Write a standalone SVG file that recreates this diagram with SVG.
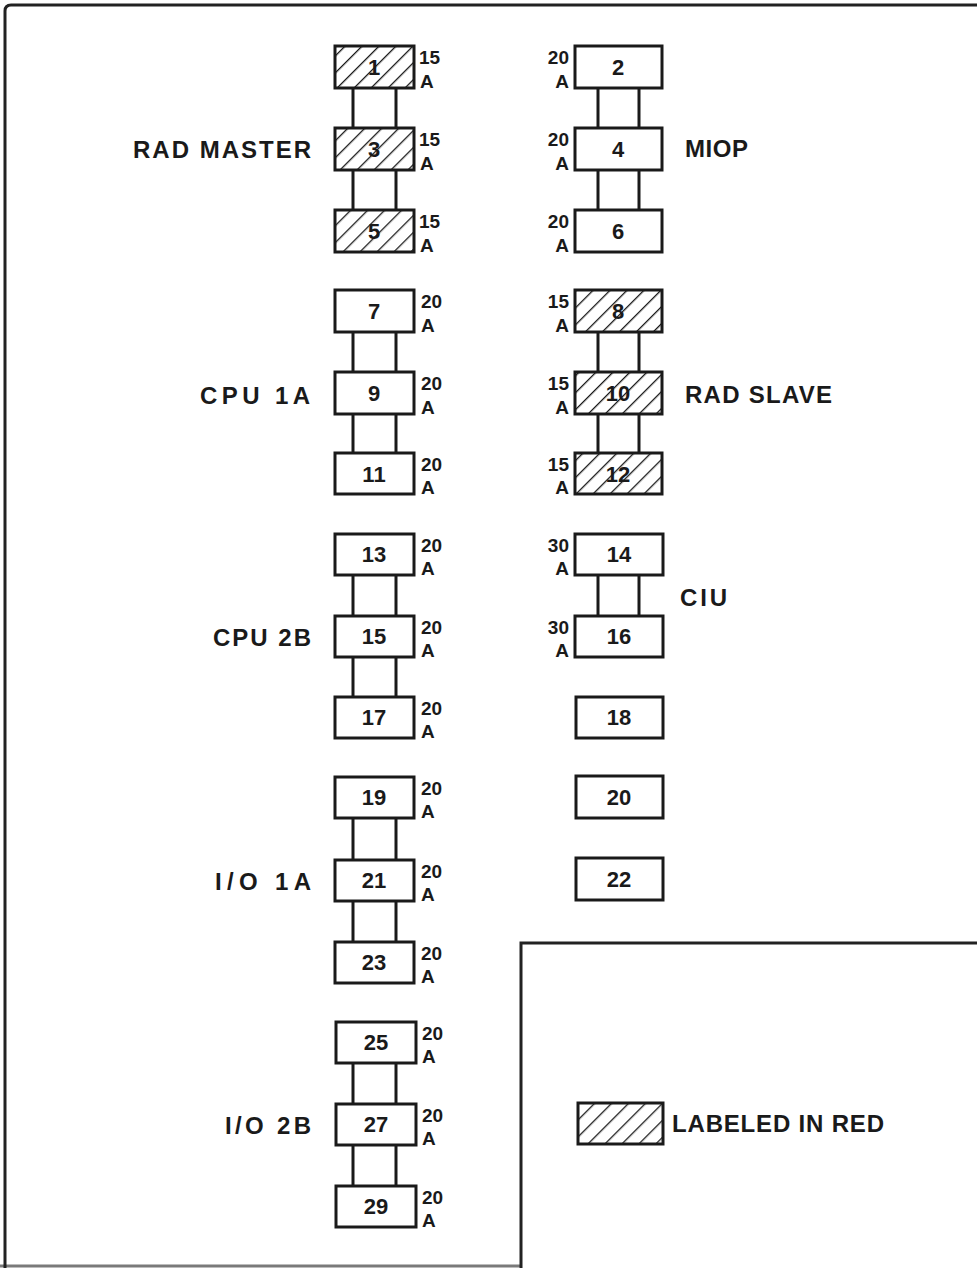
<svg xmlns="http://www.w3.org/2000/svg" width="977" height="1268" viewBox="0 0 977 1268">
<style>
.frame{fill:none;stroke:#222;stroke-width:3}
.box{fill:#fff;stroke:#1a1a1a;stroke-width:3}
.hbox{fill:url(#hatch);stroke:#1a1a1a;stroke-width:3}
.con{stroke:#1a1a1a;stroke-width:3;fill:none}
.num{font-family:"Liberation Sans",Arial,sans-serif;font-weight:bold;font-size:22px;fill:#1a1a1a;text-anchor:middle}
.rt{font-family:"Liberation Sans",Arial,sans-serif;font-weight:bold;font-size:19px;fill:#1a1a1a}
.rr{text-anchor:end}
.lbl{font-family:"Liberation Sans",Arial,sans-serif;font-weight:bold;font-size:24px;fill:#1a1a1a}
</style>
<defs>
<pattern id="hatch" patternUnits="userSpaceOnUse" width="12" height="12" patternTransform="rotate(45)">
<rect width="12" height="12" fill="#fff"/>
<line x1="0" y1="0" x2="0" y2="12" stroke="#1a1a1a" stroke-width="2.6"/>
</pattern>
</defs>
<g id="frame">
<path class="frame" d="M977,5 H11 Q5,5 5,11 V1268"/>
<path class="frame" d="M0,1266 H521" stroke-opacity="0.6"/>
<path class="frame" d="M977,943 H521 V1268"/>
</g>
<g id="connectors">
<path class="con" d="M353,88 V128 M396,88 V128 M353,170 V210 M396,170 V210"/>
<path class="con" d="M353,332 V372 M396,332 V372 M353,414 V453 M396,414 V453"/>
<path class="con" d="M353,575 V616 M396,575 V616 M353,657 V697 M396,657 V697"/>
<path class="con" d="M353,818 V860 M396,818 V860 M353,901 V942 M396,901 V942"/>
<path class="con" d="M353,1063 V1104 M396,1063 V1104 M353,1145 V1186 M396,1145 V1186"/>
<path class="con" d="M598,88 V128 M639,88 V128 M598,170 V210 M639,170 V210"/>
<path class="con" d="M598,332 V372 M639,332 V372 M598,414 V453 M639,414 V453"/>
<path class="con" d="M598,575 V616 M639,575 V616"/>
</g>
<g id="n1"><rect class="hbox" x="335" y="46" width="79" height="42"/><text class="num" x="374" y="75">1</text><text class="rt" x="419" y="64">15</text><text class="rt" x="420" y="88">A</text></g>
<g id="n3"><rect class="hbox" x="335" y="128" width="79" height="42"/><text class="num" x="374" y="157">3</text><text class="rt" x="419" y="146">15</text><text class="rt" x="420" y="170">A</text></g>
<g id="n5"><rect class="hbox" x="335" y="210" width="79" height="42"/><text class="num" x="374" y="239">5</text><text class="rt" x="419" y="228">15</text><text class="rt" x="420" y="252">A</text></g>
<g id="n7"><rect class="box" x="335" y="290" width="79" height="42"/><text class="num" x="374" y="319">7</text><text class="rt" x="421" y="308">20</text><text class="rt" x="421" y="332">A</text></g>
<g id="n9"><rect class="box" x="335" y="372" width="79" height="42"/><text class="num" x="374" y="401">9</text><text class="rt" x="421" y="390">20</text><text class="rt" x="421" y="414">A</text></g>
<g id="n11"><rect class="box" x="335" y="453" width="79" height="41"/><text class="num" x="374" y="482">11</text><text class="rt" x="421" y="471">20</text><text class="rt" x="421" y="494">A</text></g>
<g id="n13"><rect class="box" x="335" y="534" width="79" height="41"/><text class="num" x="374" y="562">13</text><text class="rt" x="421" y="552">20</text><text class="rt" x="421" y="575">A</text></g>
<g id="n15"><rect class="box" x="335" y="616" width="79" height="41"/><text class="num" x="374" y="644">15</text><text class="rt" x="421" y="634">20</text><text class="rt" x="421" y="657">A</text></g>
<g id="n17"><rect class="box" x="335" y="697" width="79" height="41"/><text class="num" x="374" y="725">17</text><text class="rt" x="421" y="715">20</text><text class="rt" x="421" y="738">A</text></g>
<g id="n19"><rect class="box" x="335" y="777" width="79" height="41"/><text class="num" x="374" y="805">19</text><text class="rt" x="421" y="795">20</text><text class="rt" x="421" y="818">A</text></g>
<g id="n21"><rect class="box" x="335" y="860" width="79" height="41"/><text class="num" x="374" y="888">21</text><text class="rt" x="421" y="878">20</text><text class="rt" x="421" y="901">A</text></g>
<g id="n23"><rect class="box" x="335" y="942" width="79" height="41"/><text class="num" x="374" y="970">23</text><text class="rt" x="421" y="960">20</text><text class="rt" x="421" y="983">A</text></g>
<g id="n25"><rect class="box" x="336" y="1022" width="80" height="41"/><text class="num" x="376" y="1050">25</text><text class="rt" x="422" y="1040">20</text><text class="rt" x="422" y="1063">A</text></g>
<g id="n27"><rect class="box" x="336" y="1104" width="80" height="41"/><text class="num" x="376" y="1132">27</text><text class="rt" x="422" y="1122">20</text><text class="rt" x="422" y="1145">A</text></g>
<g id="n29"><rect class="box" x="336" y="1186" width="80" height="41"/><text class="num" x="376" y="1214">29</text><text class="rt" x="422" y="1204">20</text><text class="rt" x="422" y="1227">A</text></g>
<g id="n2"><rect class="box" x="575" y="46" width="87" height="42"/><text class="num" x="618" y="75">2</text><text class="rt rr" x="569" y="64">20</text><text class="rt rr" x="569" y="88">A</text></g>
<g id="n4"><rect class="box" x="575" y="128" width="87" height="42"/><text class="num" x="618" y="157">4</text><text class="rt rr" x="569" y="146">20</text><text class="rt rr" x="569" y="170">A</text></g>
<g id="n6"><rect class="box" x="575" y="210" width="87" height="42"/><text class="num" x="618" y="239">6</text><text class="rt rr" x="569" y="228">20</text><text class="rt rr" x="569" y="252">A</text></g>
<g id="n8"><rect class="hbox" x="575" y="290" width="87" height="42"/><text class="num" x="618" y="319">8</text><text class="rt rr" x="569" y="308">15</text><text class="rt rr" x="569" y="332">A</text></g>
<g id="n10"><rect class="hbox" x="575" y="372" width="87" height="42"/><text class="num" x="618" y="401">10</text><text class="rt rr" x="569" y="390">15</text><text class="rt rr" x="569" y="414">A</text></g>
<g id="n12"><rect class="hbox" x="575" y="453" width="87" height="41"/><text class="num" x="618" y="482">12</text><text class="rt rr" x="569" y="471">15</text><text class="rt rr" x="569" y="494">A</text></g>
<g id="n14"><rect class="box" x="575" y="534" width="88" height="41"/><text class="num" x="619" y="562">14</text><text class="rt rr" x="569" y="552">30</text><text class="rt rr" x="569" y="575">A</text></g>
<g id="n16"><rect class="box" x="575" y="616" width="88" height="41"/><text class="num" x="619" y="644">16</text><text class="rt rr" x="569" y="634">30</text><text class="rt rr" x="569" y="657">A</text></g>
<g id="n18"><rect class="box" x="576" y="697" width="87" height="41"/><text class="num" x="619" y="725">18</text></g>
<g id="n20"><rect class="box" x="576" y="776" width="87" height="42"/><text class="num" x="619" y="805">20</text></g>
<g id="n22"><rect class="box" x="576" y="858" width="87" height="42"/><text class="num" x="619" y="887">22</text></g>
<g id="labels">
<text class="lbl" x="133" y="158" textLength="178" lengthAdjust="spacing">RAD MASTER</text>
<text class="lbl" x="685" y="157" textLength="63" lengthAdjust="spacing">MIOP</text>
<text class="lbl" x="200" y="404" textLength="110" lengthAdjust="spacing">CPU 1A</text>
<text class="lbl" x="685" y="403" textLength="147" lengthAdjust="spacing">RAD SLAVE</text>
<text class="lbl" x="680" y="606" textLength="47" lengthAdjust="spacing">CIU</text>
<text class="lbl" x="213" y="646" textLength="98" lengthAdjust="spacing">CPU 2B</text>
<text class="lbl" x="215" y="890" textLength="96" lengthAdjust="spacing">I/O 1A</text>
<text class="lbl" x="225" y="1134" textLength="86" lengthAdjust="spacing">I/O 2B</text>
</g>
<g id="legend">
<rect class="hbox" x="578" y="1103" width="85" height="41"/>
<text class="lbl" x="672" y="1132" textLength="212" lengthAdjust="spacing">LABELED IN RED</text>
</g>
</svg>
